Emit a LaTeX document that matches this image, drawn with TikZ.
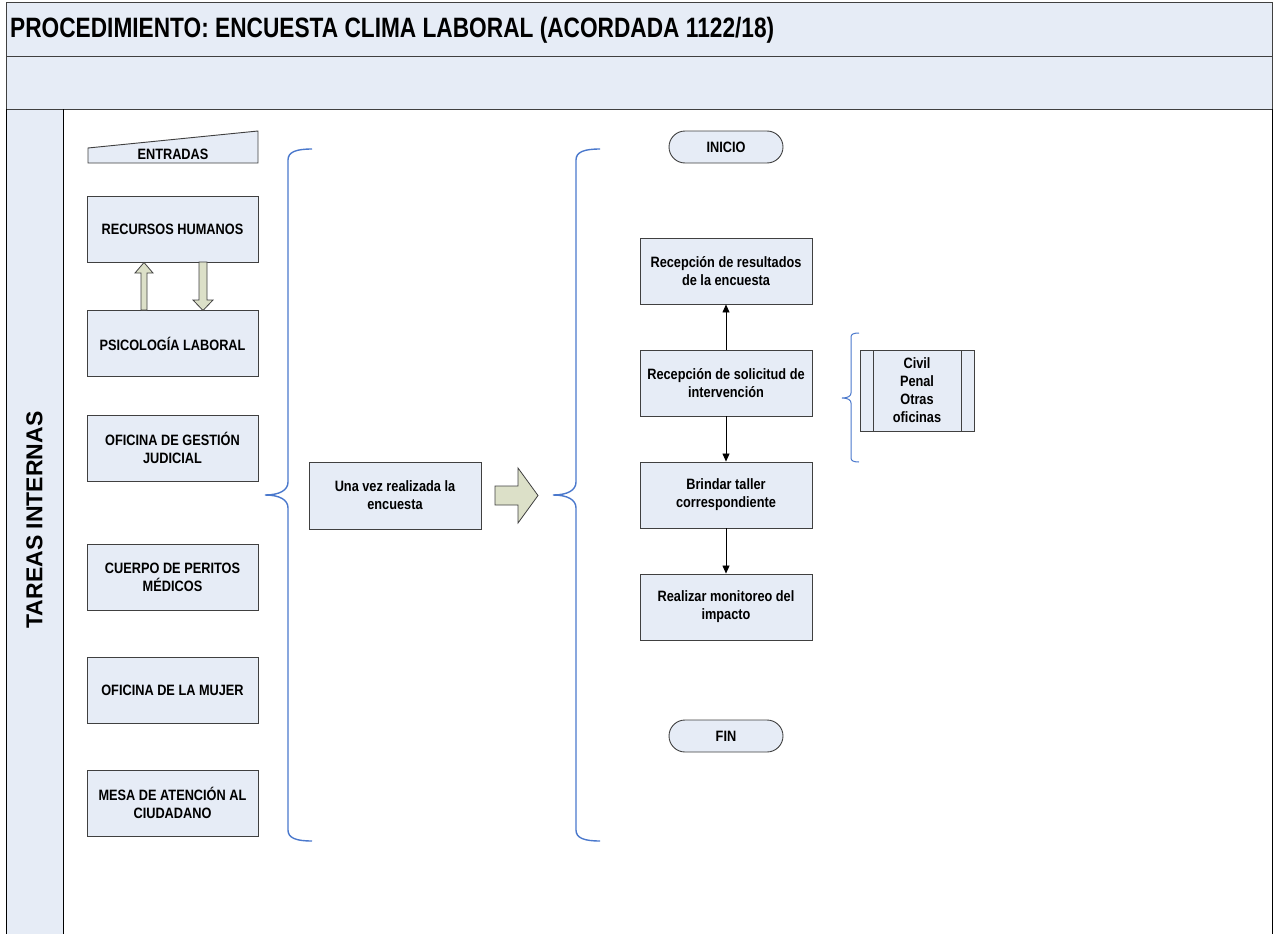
\documentclass[tikz,border=0pt]{standalone}
\usepackage{fontspec}
\setmainfont{Liberation Sans}
\newfontfamily\narrowfont[FakeStretch=0.85]{Liberation Sans}
\newfontfamily\titlefont[FakeStretch=0.81]{Liberation Sans}
\usetikzlibrary{shapes.misc,arrows.meta}

\definecolor{panelfill}{HTML}{E6ECF6}
\definecolor{boxline}{HTML}{404040}
\definecolor{bracecol}{HTML}{4A78CC}
\definecolor{blockfill}{HTML}{DCE0C8}

\tikzset{
  procbox/.style={draw=boxline, fill=panelfill, line width=0.9pt,
    minimum width=171, minimum height=66, align=center, inner sep=0,
    font=\narrowfont\bfseries\fontsize{15}{18}\selectfont},
  termbox/.style={draw=boxline, fill=panelfill, line width=0.9pt,
    rounded rectangle, minimum width=114, minimum height=32, inner sep=0,
    font=\narrowfont\bfseries\fontsize{15}{18}\selectfont},
  plain/.style={align=center, inner sep=0,
    font=\narrowfont\bfseries\fontsize{15}{18}\selectfont},
  flow/.style={draw=black, line width=0.7pt, -{Triangle[length=8,width=7]}},
  brace/.style={draw=bracecol, line width=1.4pt},
  blockarrow/.style={draw=boxline, fill=blockfill, line width=0.8pt},
}

\begin{document}
\begin{tikzpicture}[x=1pt,y=-1pt]
\useasboundingbox (0,0) rectangle (1277,934);

% header bands
\draw[boxline, fill=panelfill, line width=1pt] (6,3) rectangle (1272,57);
\draw[boxline, fill=panelfill, line width=1pt] (6,57) rectangle (1272,109);
\node[anchor=west, inner sep=0, font=\titlefont\bfseries\fontsize{28}{30}\selectfont]
  (title) at (10,30) {PROCEDIMIENTO: ENCUESTA CLIMA LABORAL (ACORDADA 1122/18)};

% lane
\fill[panelfill] (6.5,109.5) rectangle (63,934);
\draw[black, line width=1pt] (6,109) -- (6,934) (63,109) -- (63,934) (1272,109) -- (1272,934);
\node[rotate=90, inner sep=0, font=\bfseries\fontsize{23}{25}\selectfont]
  (lane) at (34.5,520) {TAREAS INTERNAS};

% inputs column
\draw[boxline, fill=panelfill, line width=0.9pt] (88,148) -- (258,131) -- (258,163) -- (88,163) -- cycle;
\node[plain] (entradas) at (173,154) {ENTRADAS};

\node[procbox] (rh)  at (172.5,229)   {RECURSOS HUMANOS};
\node[procbox] (psi) at (172.5,343.5) {PSICOLOGÍA LABORAL};
\node[procbox] (ogj) at (172.5,448)   {OFICINA DE GESTIÓN\\JUDICIAL};
\node[procbox] (cpm) at (172.5,577)   {CUERPO DE PERITOS\\MÉDICOS};
\node[procbox] (om)  at (172.5,690)   {OFICINA DE LA MUJER};
\node[procbox] (mac) at (172.5,803)   {MESA DE ATENCIÓN AL\\CIUDADANO};

% block arrows between RRHH and Psicologia
\draw[blockarrow] (141,310) -- (141,273) -- (135,273) -- (144,262.5) -- (153,273) -- (147,273) -- (147,310) -- cycle;
\draw[blockarrow] (199,262) -- (199,300) -- (193,300) -- (203,310.5) -- (213,300) -- (207,300) -- (207,262) -- cycle;

% left brace
\draw[brace] (312,149) .. controls (296,149) and (288,152) .. (288,160)
  -- (288,482) .. controls (288,490) and (280,495) .. (265,495)
  .. controls (280,495) and (288,500) .. (288,508)
  -- (288,830) .. controls (288,838) and (296,841) .. (312,841);

\node[procbox, minimum width=172, minimum height=67] (vez) at (395,495.5) {Una vez realizada la\\encuesta};

% block arrow to the process
\draw[blockarrow] (495,486) -- (518,486) -- (518,468) -- (538,495.5) -- (518,523) -- (518,505) -- (495,505) -- cycle;

% right brace
\draw[brace] (600,149) .. controls (584,149) and (576,152) .. (576,160)
  -- (576,482) .. controls (576,490) and (568,495) .. (553,495)
  .. controls (568,495) and (576,500) .. (576,508)
  -- (576,830) .. controls (576,838) and (584,841) .. (600,841);

% process flow
\node[termbox] (inicio) at (726,147) {INICIO};
\node[procbox, minimum width=172] (res)  at (726,271) {Recepción de resultados\\de la encuesta};
\node[procbox, minimum width=172] (sol)  at (726,383) {Recepción de solicitud de\\intervención};
\node[procbox, minimum width=172] (tall) at (726,495) {Brindar taller\\correspondiente};
\node[procbox, minimum width=172] (mon)  at (726,607) {Realizar monitoreo del\\impacto};
\node[termbox] (fin) at (726,736) {FIN};

\draw[flow] (sol) -- (res);
\draw[flow] (sol) -- (tall);
\draw[flow] (tall) -- (mon);

% offices brace and predefined process
\draw[brace, line width=1pt] (859,333) .. controls (854,333) and (851,334) .. (851,337)
  -- (851,393) .. controls (851,396) and (848,398) .. (842,398)
  .. controls (848,398) and (851,400) .. (851,403)
  -- (851,458) .. controls (851,461) and (854,462) .. (859,462);

\node[draw=boxline, fill=panelfill, line width=0.9pt, minimum width=114, minimum height=81, inner sep=0]
  (ofi) at (917,390.5) {};
\draw[boxline, line width=0.9pt] (873,350) -- (873,431) (961,350) -- (961,431);
\node[plain] (ofitext) at (ofi.center) {Civil\\Penal\\Otras\\oficinas};
\end{tikzpicture}
\end{document}
